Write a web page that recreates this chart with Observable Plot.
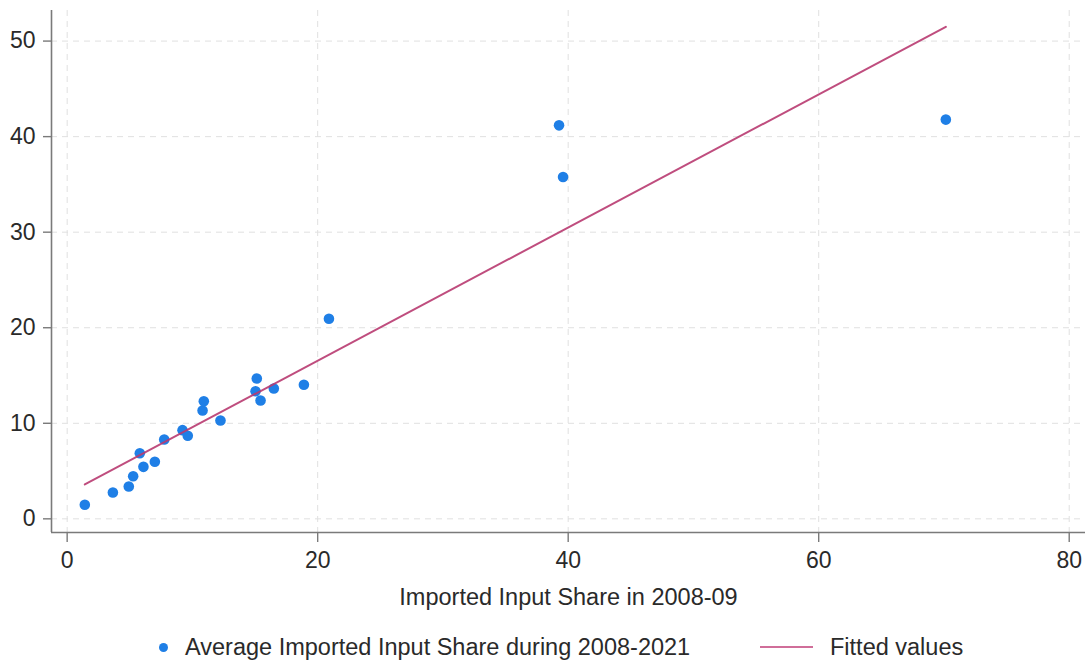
<!DOCTYPE html>
<html><head><meta charset="utf-8">
<script src="https://cdn.jsdelivr.net/npm/d3@7"></script>
<script src="https://cdn.jsdelivr.net/npm/@observablehq/plot@0.6"></script>
<style>
body{margin:0;background:#fff;font-family:"Liberation Sans",Arial,Helvetica,sans-serif;}
#wrap{position:relative;width:1089px;height:662px;overflow:hidden;}
#legend{position:absolute;left:0;top:632px;width:1089px;height:30px;font-size:23.5px;color:#2a2a2a;}
.item{position:absolute;top:0;display:flex;align-items:center;height:30px;white-space:nowrap;}
.dot{width:9px;height:9px;border-radius:50%;background:#1f7fe6;margin-right:17px;}
.ln{width:53px;height:2px;background:#c44a80;opacity:0.8;margin-right:17px;}
</style></head><body>
<div id="wrap"><div id="chart"></div><div id="legend"></div></div>
<script>
// Data
const importShare2008 = [1.41,3.65,4.92,5.27,5.80,6.09,7.00,7.75,9.21,9.63,10.81,10.91,12.24,15.04,15.14,15.44,16.50,18.90,20.90,39.27,39.59,70.15];
const avgImportShare = [1.47,2.75,3.38,4.46,6.87,5.44,5.97,8.30,9.28,8.69,11.34,12.31,10.29,13.36,14.69,12.39,13.64,14.03,20.94,41.18,35.77,41.78];
const xTicks = [0,20,40,60,80];
const yTicks = [0,10,20,30,40,50];
const xTitle = "Imported Input Share in 2008-09";
const seriesNames = ["Average Imported Input Share during 2008-2021","Fitted values"];
const colors = ["#1f7fe6","#b83a70"];

const data = importShare2008.map((x,i)=>({x, y: avgImportShare[i]}));
const xDom = [-1.25, 81.3], yDom = [-1.43, 53.2];

const chart = Plot.plot({
  width:1089, height:625,
  marginLeft:51, marginRight:4, marginTop:10, marginBottom:93,
  x:{domain:xDom}, y:{domain:yDom},
  style:{fontFamily:'"Liberation Sans",Arial,Helvetica,sans-serif', fontSize:"23px", color:"#2a2a2a", background:"white", overflow:"visible"},
  marks:[
    Plot.gridX(xTicks,{stroke:"#e0e0e0", strokeOpacity:1, strokeWidth:1, strokeDasharray:"6,5"}),
    Plot.gridY(yTicks,{stroke:"#e0e0e0", strokeOpacity:1, strokeWidth:1, strokeDasharray:"6,5"}),
    Plot.ruleX([xDom[0]],{stroke:"#7a7a7a", strokeWidth:1.6}),
    Plot.ruleY([yDom[0]],{stroke:"#7a7a7a", strokeWidth:1.6}),
    Plot.axisX(xTicks,{tickSize:10, tickPadding:9, stroke:"#7a7a7a", strokeWidth:1.4, fontSize:23, label:xTitle, labelAnchor:"center", labelArrow:"none", labelOffset:72}),
    Plot.axisY(yTicks,{tickSize:8, tickPadding:8, stroke:"#7a7a7a", strokeWidth:1.4, fontSize:23, label:null}),
    Plot.dot(data,{x:"x", y:"y", r:5.3, fill:colors[0], stroke:"none"}),
    Plot.linearRegressionY(data,{x:"x", y:"y", ci:0, stroke:colors[1], strokeWidth:2, strokeOpacity:0.9})
  ]
});
chart.querySelectorAll('[aria-label="x-axis label"] text').forEach(t=>t.setAttribute("font-size","23.5"));
document.getElementById("chart").append(chart);

const lg = document.getElementById("legend");
lg.innerHTML = `<div class="item" style="left:159px"><span class="dot"></span><span>${seriesNames[0]}</span></div>
<div class="item" style="left:760px"><span class="ln"></span><span>${seriesNames[1]}</span></div>`;
</script>
</body></html>
